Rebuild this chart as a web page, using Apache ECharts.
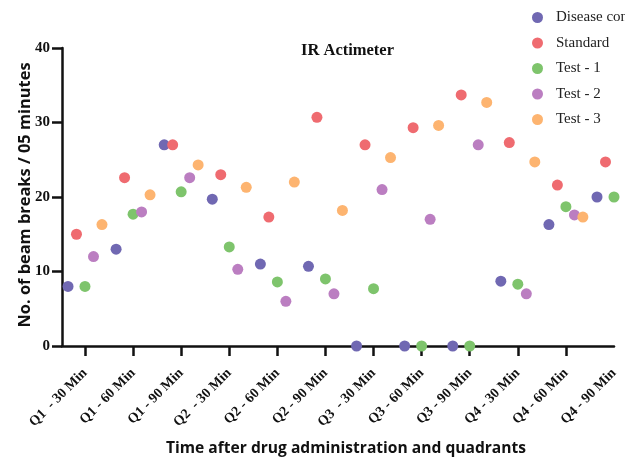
<!DOCTYPE html>
<html>
<head>
<meta charset="utf-8">
<script src="https://cdn.jsdelivr.net/npm/echarts@6/dist/echarts.min.js"></script>
<style>
html,body{margin:0;padding:0;background:#fff;}
#chart{width:625px;height:459px;}
</style>
</head>
<body>
<div id="chart"></div>
<script>
// Data
const categories = ['Q1  - 30 Min','Q1 - 60 Min','Q1 - 90 Min','Q2  - 30 Min','Q2 - 60 Min','Q2 - 90 Min',
                    'Q3  - 30 Min','Q3 - 60 Min','Q3 - 90 Min','Q4 - 30 Min','Q4 - 60 Min','Q4 - 90 Min'];
const seriesNames = ['Disease control','Standard','Test - 1','Test - 2','Test - 3'];
const disease  = [8, 13, 27, 19.7, 11, 10.7, 0, 0, 0, 8.7, 16.3, 20];
const standard = [15, 22.6, 27, 23, 17.3, 30.7, 27, 29.3, 33.7, 27.3, 21.6, 24.7];
const test1    = [8, 17.7, 20.7, 13.3, 8.6, 9, 7.7, 0, 0, 8.3, 18.7, 20];
const test2    = [12, 18, 22.6, 10.3, 6, 7, 21, 17, 27, 7, 17.6, null];
const test3    = [16.3, 20.3, 24.3, 21.3, 22, 18.2, 25.3, 29.6, 32.7, 24.7, 17.3, null];
const yTicks   = [0, 10, 20, 30, 40];

const allValues = [disease, standard, test1, test2, test3];
const colors = ['#7068B2', '#EF6B70', '#7EC46C', '#BB7EC1', '#FDB470'];
const dodge = [-0.353, -0.177, 0, 0.177, 0.353];

const series = allValues.map((vals, s) => ({
  name: seriesNames[s],
  type: 'scatter',
  symbol: 'circle',
  symbolSize: 11,
  clip: false,
  itemStyle: { color: colors[s], opacity: 1 },
  data: vals.map((v, i) => v === null ? null : [i + dodge[s], v])
}));

const chart = echarts.init(document.getElementById('chart'), null, { renderer: 'canvas' });
chart.setOption({
  backgroundColor: '#ffffff',
  animation: false,
  title: {
    text: 'IR Actimeter',
    left: 301, top: 42,
    padding: 0,
    textStyle: { fontFamily: 'Liberation Serif', fontWeight: 'bold', fontSize: 16.5, color: '#111' }
  },
  legend: {
    orient: 'vertical',
    left: 527, top: 5,
    itemWidth: 11, itemHeight: 11, itemGap: 10.5,
    icon: 'circle',
    data: seriesNames,
    textStyle: { fontFamily: 'Liberation Serif', fontSize: 15, color: '#222', padding: [0, 0, 0, 8] }
  },
  grid: { left: 62, right: 11, top: 48, bottom: 113, containLabel: false, outerBoundsMode: 'none' },
  xAxis: {
    type: 'value',
    min: -0.478, max: 11,
    name: 'Time after drug administration and quadrants',
    nameLocation: 'middle', nameGap: 95, nameMoveOverlap: false,
    nameTextStyle: { fontFamily: 'Open Sans', fontWeight: 'bold', fontSize: 15.6, color: '#111', padding: [0, 0, 0, 16] },
    splitLine: { show: false },
    axisLine: { show: true, onZero: false, lineStyle: { color: '#111', width: 2.5 } },
    axisTick: { show: true, length: 10, customValues: categories.slice(0, 11).map((c, i) => i), lineStyle: { color: '#111', width: 2.5 } },
    axisLabel: {
      customValues: categories.map((c, i) => i),
      rotate: 45, margin: 25,
      formatter: (v) => categories[Math.round(v)] || '',
      fontFamily: 'Liberation Serif', fontWeight: 'bold', fontSize: 14, color: '#111'
    }
  },
  yAxis: {
    type: 'value',
    min: 0, max: 40, interval: 10,
    name: 'No. of beam breaks / 05 minutes',
    nameLocation: 'middle', nameGap: 29, nameMoveOverlap: false,
    nameTextStyle: { fontFamily: 'Open Sans', fontWeight: 'bold', fontSize: 16.4, color: '#111', padding: [0, 0, 0, 4] },
    splitLine: { show: false },
    axisLine: { show: true, onZero: false, lineStyle: { color: '#111', width: 2.5 } },
    axisTick: { show: true, length: 10, lineStyle: { color: '#111', width: 2.5 } },
    axisLabel: {
      margin: 12,
      formatter: (v) => yTicks.includes(v) ? String(v) : '',
      fontFamily: 'Liberation Serif', fontWeight: 'bold', fontSize: 15, color: '#111'
    }
  },
  series: series
});
</script>
</body>
</html>
